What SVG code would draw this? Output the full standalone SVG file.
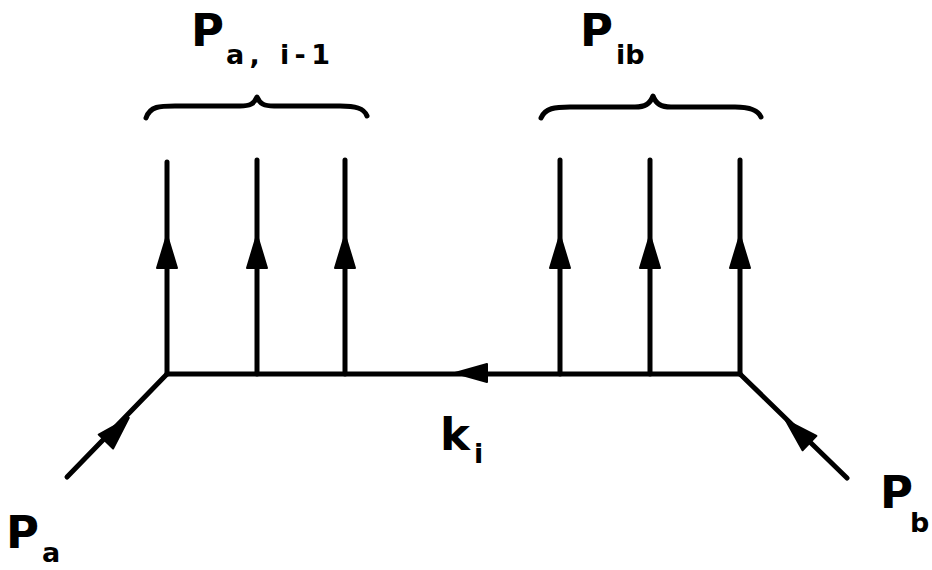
<svg xmlns="http://www.w3.org/2000/svg" width="932" height="570" viewBox="0 0 932 570">
<style>
.ln{stroke:#000;stroke-width:5;fill:none;stroke-linecap:round;stroke-linejoin:round}
.br{stroke:#000;stroke-width:5;fill:none;stroke-linecap:round;stroke-linejoin:round}
.ah{fill:#000;stroke:#000;stroke-width:2;stroke-linejoin:round}
.big{font-family:"DejaVu Sans","Liberation Sans",sans-serif;font-weight:bold;font-size:45px;fill:#000}
.sub{font-family:"DejaVu Sans","Liberation Sans",sans-serif;font-weight:bold;font-size:27px;fill:#000}
</style>
<rect width="932" height="570" fill="#fff"/>
<defs>
<polygon id="up" class="ah" points="0,-17 -10,16 10,16"/>
</defs>
<g id="connectors">
<path class="ln" d="M167,374 H740"/>
<path class="ln" d="M167,374 V162"/>
<path class="ln" d="M257,374 V160"/>
<path class="ln" d="M345,374 V160"/>
<path class="ln" d="M560,374 V160"/>
<path class="ln" d="M650,374 V160"/>
<path class="ln" d="M740,374 V160"/>
<path class="ln" d="M167,374 L67,477"/>
<path class="ln" d="M740,374 L847,478"/>
<use href="#up" x="167" y="252"/>
<use href="#up" x="257" y="252"/>
<use href="#up" x="345" y="252"/>
<use href="#up" x="560" y="252"/>
<use href="#up" x="650" y="252"/>
<use href="#up" x="740" y="252"/>
<polygon class="ah" points="455,373 487,364 487,382"/>
<use href="#up" transform="translate(117,430) rotate(44)"/>
<use href="#up" transform="translate(798,432) rotate(-46)"/>
</g>
<g id="brace-left">
<path class="br" d="M146,118 C150,106 160,106 175,106 H240 C250,106 254,104 257,97 C260,104 264,106 274,106 H340 C355,106 364,108 367,116"/>
</g>
<g id="brace-right">
<path class="br" d="M541,118 C545,108 555,107 570,107 H635 C645,107 650,104 653,96 C656,104 661,107 671,107 H735 C750,107 758,110 761,117"/>
</g>
<g id="label-Pai">
<text class="big" x="191" y="46">P</text>
<text class="sub" x="226" y="64" textLength="104" lengthAdjust="spacing">a, i-1</text>
</g>
<g id="label-Pib">
<text class="big" x="580" y="46">P</text>
<text class="sub" x="616" y="64">ib</text>
</g>
<g id="label-ki">
<text class="big" x="440" y="450">k</text>
<text class="sub" x="474" y="463">i</text>
</g>
<g id="label-Pa">
<text class="big" x="6" y="548">P</text>
<text class="sub" x="42" y="562">a</text>
</g>
<g id="label-Pb">
<text class="big" x="880" y="508">P</text>
<text class="sub" x="910" y="532">b</text>
</g>
</svg>
